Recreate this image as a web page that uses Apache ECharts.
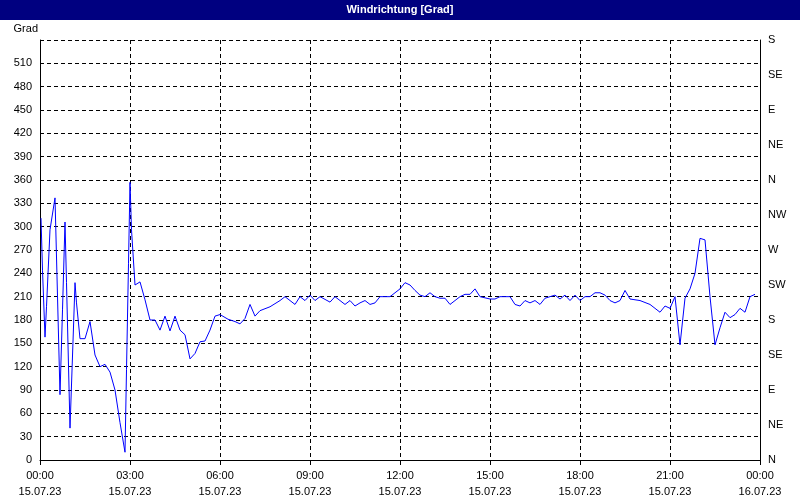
<!DOCTYPE html>
<html><head><meta charset="utf-8">
<script src="https://cdn.jsdelivr.net/npm/echarts@6/dist/echarts.min.js"></script>
<style>html,body{margin:0;padding:0;background:#fff}#c{width:800px;height:500px}</style>
</head><body><div id="c"></div>
<script>
// minutes since 15.07.23 00:00
const minutes = [2,5,10,13,20,30,33,40,45,50,53,60,67,70,73,80,90,100,110,120,130,140,150,160,170,173,177,180,183,190,200,210,220,230,240,250,260,270,280,290,300,310,320,330,340,350,360,376,
380,390,400,410,420,430,440,460,480,490,500,510,520,530,540,550,560,580,590,600,610,620,630,640,650,660,670,680,700,710,720,730,740,750,760,770,780,790,800,810,820,830,840,850,860,870,880,900,910,920,930,940,950,960,970,980,990,1000,1010,1020,1030,1040,1050,1060,1070,1080,1090,1100,1110,1120,1130,1140,1150,1160,1170,1180,1200,1220,1230,1240,1250,1260,1270,1280,1290,1300,1310,1320,1330,1340,1350,1360,1370,1380,1390,1400,1410,1420,1430];
const degrees = [311,244,158,197,296,337,261,84,193,306,228,41,171,228,202,156,156,178,135,120,123,113,90,48,10,116,253,357,296,225,229,206,180,180,167,185,166,185,167,161,130,137,152,153,167,185,187,181,
181,178,175,182,200,185,192,197,205,210,205,200,210,205,212,205,210,203,210,205,200,205,198,202,205,200,202,210,210,215,220,228,225,218,212,210,215,210,208,208,200,205,210,213,213,220,210,207,207,210,210,210,200,198,205,202,205,200,208,210,212,207,212,205,212,205,210,210,215,215,212,205,202,205,218,207,205,200,195,190,198,195,210,148,208,220,240,285,283,210,148,170,190,183,187,195,190,210,213];
const dirLabels = ['N','NE','E','SE','S','SW','W','NW','N','NE','E','SE','S'];
const dateLabels = {0:'15.07.23',1440:'16.07.23'};
const data = minutes.map((m,i)=>[m,degrees[i]]);
const pad = n => String(n).padStart(2,'0');
const chart = echarts.init(document.getElementById('c'));
const ax = {fontSize:11,color:'#000',fontFamily:'Liberation Sans, Arial, sans-serif'};
chart.setOption({
  animation:false,
  backgroundColor:'#fff',
  graphic:[{type:'rect',shape:{x:0,y:0,width:800,height:20},style:{fill:'#000080'}},
    {type:'text',left:'center',top:4,style:{text:'Windrichtung [Grad]',fill:'#fff',font:'bold 11px Liberation Sans, Arial, sans-serif'}}],
  grid:{left:40,right:40,top:40,bottom:40},
  xAxis:{type:'value',min:0,max:1440,interval:180,
    axisLine:{lineStyle:{color:'#000'}},axisTick:{show:true,lineStyle:{color:'#000'}},
    axisLabel:Object.assign({},ax,{lineHeight:16,formatter:v=>{const h=Math.floor(v/60)%24;return pad(h)+':'+pad(v%60)+'\n'+(dateLabels[v]||'15.07.23');}}),
    splitLine:{show:true,lineStyle:{color:'#000',type:[4,3]}}},
  yAxis:[{type:'value',min:0,max:540,interval:30,name:'Grad',nameGap:6,nameTextStyle:Object.assign({},ax,{align:'right',padding:[0,2,0,0]}),
    axisLine:{show:true,lineStyle:{color:'#000'}},axisTick:{show:false},
    axisLabel:Object.assign({},ax,{formatter:v=>v===540?'':v}),
    splitLine:{show:true,lineStyle:{color:'#000',type:[4,3]}}},
   {type:'value',min:0,max:540,interval:45,position:'right',
    axisLine:{show:true,lineStyle:{color:'#000'}},axisTick:{show:false},
    axisLabel:Object.assign({},ax,{formatter:v=>dirLabels[v/45]}),splitLine:{show:false}}],
  series:[{type:'line',data:data,showSymbol:false,lineStyle:{color:'#0000ff',width:1}}]
});
</script></body></html>
